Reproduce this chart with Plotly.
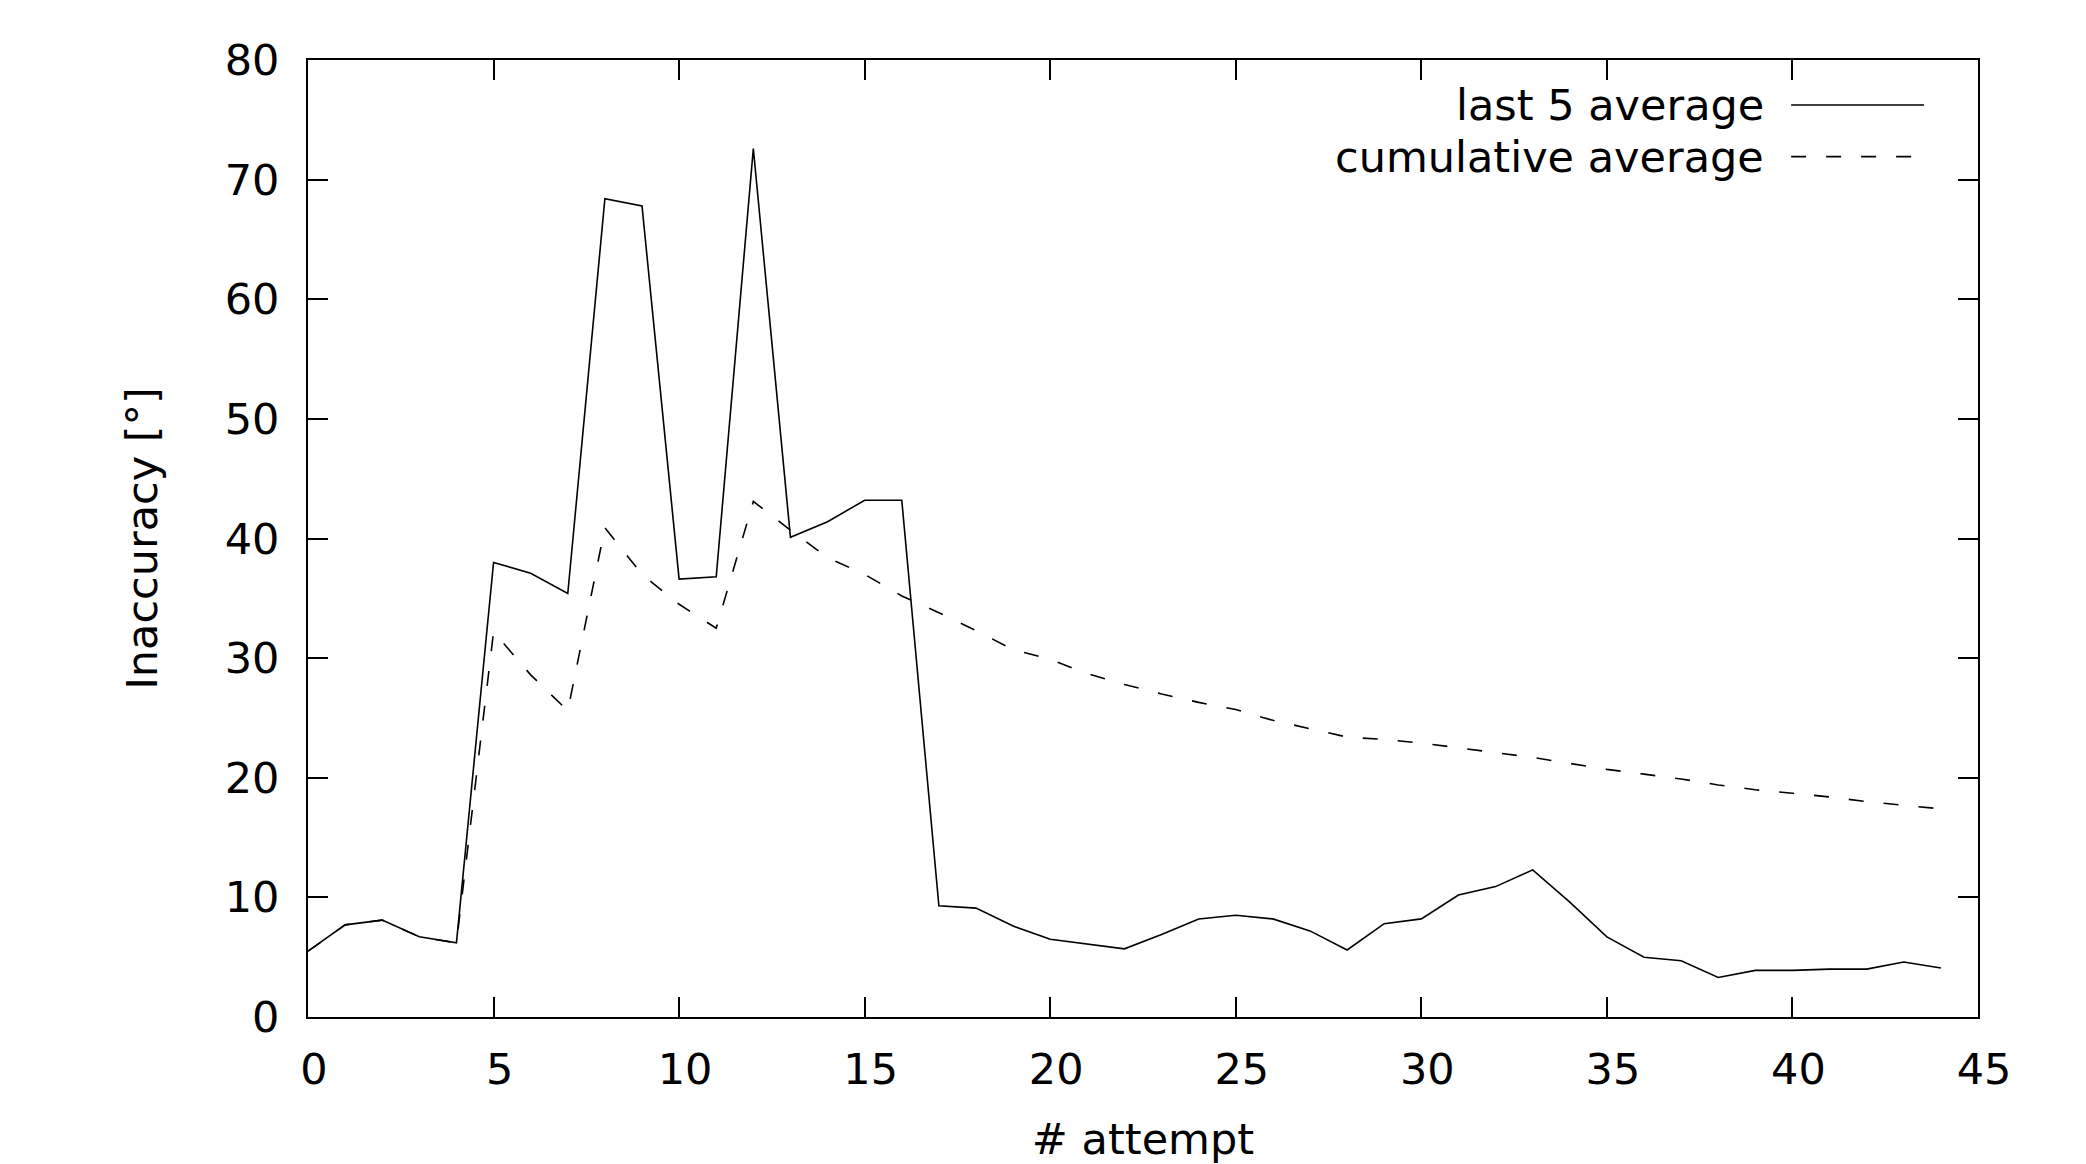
import plotly.graph_objects as go

attempts = list(range(45))

last5_avg = [5.5, 7.7, 8.1, 6.7, 6.2, 38.0, 37.1, 35.4, 68.4, 67.8,
             36.6, 36.8, 72.6, 40.1, 41.4, 43.2, 43.2, 9.3, 9.1, 7.6,
             6.5, 6.1, 5.7, 6.9, 8.2, 8.5, 8.2, 7.2, 5.6, 7.8,
             8.2, 10.2, 10.9, 12.3, 9.6, 6.7, 5.0, 4.7, 3.3, 3.9,
             3.9, 4.0, 4.0, 4.6, 4.1]

cumulative_avg = [5.5, 7.7, 8.1, 6.7, 6.2, 32.2, 28.6, 25.6, 40.9, 37.0,
                  34.5, 32.5, 43.1, 40.7, 38.4, 37.0, 35.2, 33.8, 32.3, 30.7,
                  29.9, 28.7, 27.8, 27.0, 26.3, 25.7, 24.8, 24.1, 23.4, 23.2,
                  22.9, 22.5, 22.1, 21.7, 21.2, 20.7, 20.3, 19.9, 19.4, 19.0,
                  18.7, 18.4, 18.0, 17.7, 17.4]

series_names = ["last 5 average", "cumulative average"]
x_title = "# attempt"
y_title = "Inaccuracy [°]"

FONT = "DejaVu Sans"
FS = 43
DASH = "15px,20px"
LW = 1.6

fig = go.Figure()
fig.add_trace(go.Scatter(x=attempts, y=last5_avg, mode="lines", name=series_names[0],
                         line=dict(color="black", width=LW), showlegend=False))
fig.add_trace(go.Scatter(x=attempts, y=cumulative_avg, mode="lines", name=series_names[1],
                         line=dict(color="black", width=LW, dash=DASH), showlegend=False))

axis_common = dict(showgrid=False, zeroline=False, showline=True, linecolor="black",
                   linewidth=2, mirror="allticks", ticks="inside", ticklen=20,
                   tickwidth=1.5, tickcolor="black",
                   tickfont=dict(family=FONT, size=FS, color="black"))

fig.update_xaxes(range=[0, 45], dtick=5, tick0=0, ticklabelstandoff=13, ticklabelshift=6,
                 title=dict(text=x_title, font=dict(family=FONT, size=FS, color="black"), standoff=46),
                 **axis_common)
fig.update_yaxes(range=[0, 80], dtick=10, tick0=0, ticklabelstandoff=18,
                 title=dict(text=y_title, font=dict(family=FONT, size=FS, color="black"), standoff=54),
                 **axis_common)

# legend (text right-aligned, sample line on the right, as in gnuplot)
leg_y = [0.953, 0.899]
for name, yy, dash in zip(series_names, leg_y, ["solid", DASH]):
    fig.add_annotation(x=0.8731, y=yy, xref="paper", yref="paper", text=name,
                       showarrow=False, xanchor="right", yanchor="middle",
                       font=dict(family=FONT, size=FS, color="black"))
    fig.add_shape(type="line", xref="paper", yref="paper", x0=0.8881, x1=0.9677,
                  y0=yy, y1=yy, line=dict(color="black", width=LW, dash=dash))

fig.update_layout(width=2078, height=1156, plot_bgcolor="white", paper_bgcolor="white",
                  margin=dict(l=300, r=108, t=52, b=147, autoexpand=False),
                  font=dict(family=FONT, size=FS, color="black"))

fig.write_html("out.html")
